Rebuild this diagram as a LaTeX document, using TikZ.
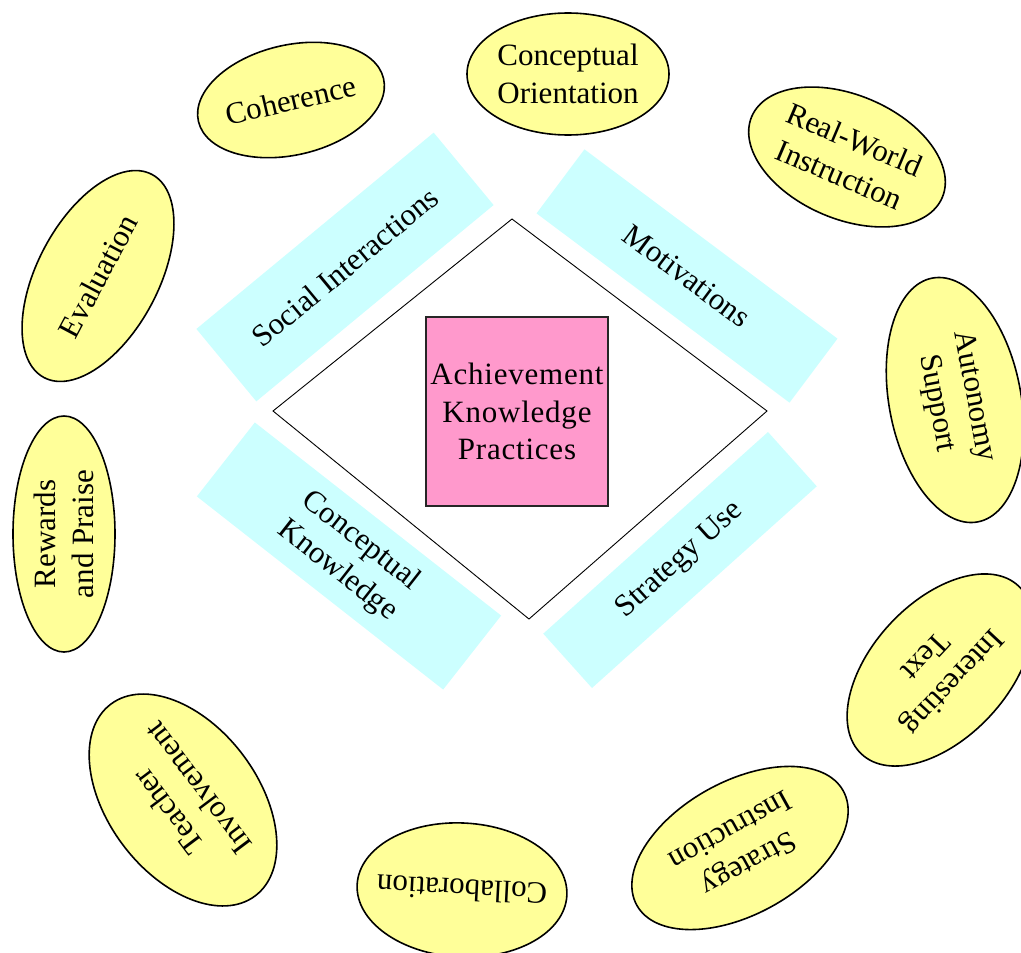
\documentclass[tikz,border=0pt]{standalone}
\usepackage{fontspec}
\setmainfont{Liberation Serif}
\usetikzlibrary{shapes.geometric}
\definecolor{bubbleyellow}{HTML}{FFFF99}
\definecolor{bandcyan}{HTML}{CCFFFF}
\definecolor{corepink}{HTML}{FF99CC}

\begin{document}
\begin{tikzpicture}[x=1pt,y=-1pt,
  bubble/.style={ellipse,draw=black,line width=1.6pt,fill=bubbleyellow,inner xsep=-40pt,inner ysep=-10pt,align=center,font=\fontsize{31}{38}\selectfont},
  band/.style={rectangle,fill=bandcyan,inner sep=0pt,align=center,font=\fontsize{31}{38}\selectfont}]
\useasboundingbox (0,0) rectangle (1021,953);

% outer ring of practices
\node[bubble,minimum width=190pt,minimum height=110pt,rotate=13] (coherence) at (291,100) {Coherence};
\node[bubble,minimum width=202pt,minimum height=122pt] (orientation) at (568,74) {Conceptual\\Orientation};
\node[bubble,minimum width=207pt,minimum height=124pt,rotate=-23] (realworld) at (847,157) {Real-World\\Instruction};
\node[bubble,minimum width=248pt,minimum height=132pt,rotate=-79.5] (autonomy) at (955,400) {Autonomy\\Support};
\node[bubble,minimum width=230pt,minimum height=136pt,rotate=-133] (interesting) at (940,670) {Interesting\\Text};
\node[bubble,minimum width=236pt,minimum height=133pt,rotate=-151] (stratinstr) at (740,848) {Strategy\\Instruction};
\node[bubble,minimum width=210pt,minimum height=134pt,rotate=177] (collab) at (462,890) {Collaboration};
\node[bubble,minimum width=240pt,minimum height=150pt,rotate=127] (teacher) at (183,800) {Teacher\\Involvement};
\node[bubble,minimum width=236pt,minimum height=102pt,rotate=90] (rewards) at (64,534) {Rewards\\and Praise};
\node[bubble,minimum width=230pt,minimum height=121pt,rotate=62] (evaluation) at (98,276) {Evaluation};

% the four engagement bands
\node[band,minimum width=308pt,minimum height=94pt,rotate=39.6] (social) at (345,267) {Social Interactions};
\node[band,minimum width=316pt,minimum height=80pt,rotate=-36.8] (motiv) at (687,276) {Motivations};
\node[band,minimum width=313pt,minimum height=94pt,rotate=-38.1] (concknow) at (349,556) {Conceptual\\Knowledge};
\node[band,minimum width=302pt,minimum height=73pt,rotate=41.9] (stratuse) at (680,560) {Strategy Use};

% diamond and core
\coordinate (dtop) at (512,219);
\coordinate (dright) at (767,411);
\coordinate (dbottom) at (529,619);
\coordinate (dleft) at (273,411);
\draw[line width=0.9pt,fill=white] (dtop) -- (dright) -- (dbottom) -- (dleft) -- cycle;
\node[draw=black!85,line width=1.4pt,fill=corepink,minimum width=182pt,minimum height=189pt,inner sep=0pt,align=center,
  font=\fontsize{31}{37.5}\selectfont\addfontfeature{LetterSpace=2.5}] (core) at (517,411.5) {Achievement\\Knowledge\\Practices};
\end{tikzpicture}
\end{document}
